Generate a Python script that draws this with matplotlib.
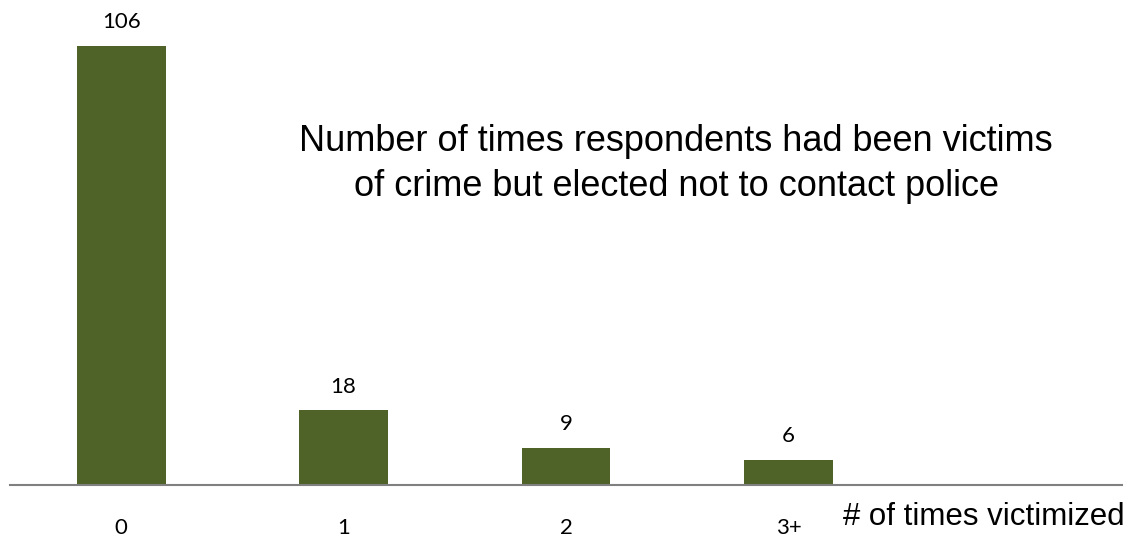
import matplotlib.pyplot as plt

categories = ['0', '1', '2', '3+', '']
counts = [106, 18, 9, 6]

bar_color = '#4F6228'

fig = plt.figure(figsize=(11.31, 5.38), dpi=100)
ax = fig.add_axes([10 / 1131, 53 / 538, 1112 / 1131, 485 / 538])

X = range(len(counts))
bars = ax.bar(X, counts, 0.4, color=bar_color)

ax.set_xlim(-0.5, len(categories) - 0.5)
ax.set_ylim(0, 106 * 485 / 439)

# value labels above each bar
for b, v in zip(bars, counts):
    ax.annotate(str(v), (b.get_x() + b.get_width() / 2, v), xytext=(0, 10),
                textcoords='offset points', ha='center', va='bottom',
                fontsize=16, family='Lato')

ax.set_xticks(range(len(categories)))
ax.set_xticklabels(categories, family='Lato', fontsize=16)
ax.tick_params(axis='x', length=0, pad=23.5)
ax.set_yticks([])
for s in ['top', 'right', 'left']:
    ax.spines[s].set_visible(False)
ax.spines['bottom'].set_color('#808080')
ax.spines['bottom'].set_linewidth(1.5)

fig.text(843 / 1131, 1 - 517 / 538, '# of times victimized', ha='left', va='center',
         fontsize=22.5, family='Liberation Sans')

fig.text(676 / 1131, 1 - 164 / 538,
         'Number of times respondents had been victims\nof crime but elected not to contact police',
         ha='center', va='center', fontsize=26, family='Liberation Sans', linespacing=1.38)

fig.savefig('out.png', dpi=100)
